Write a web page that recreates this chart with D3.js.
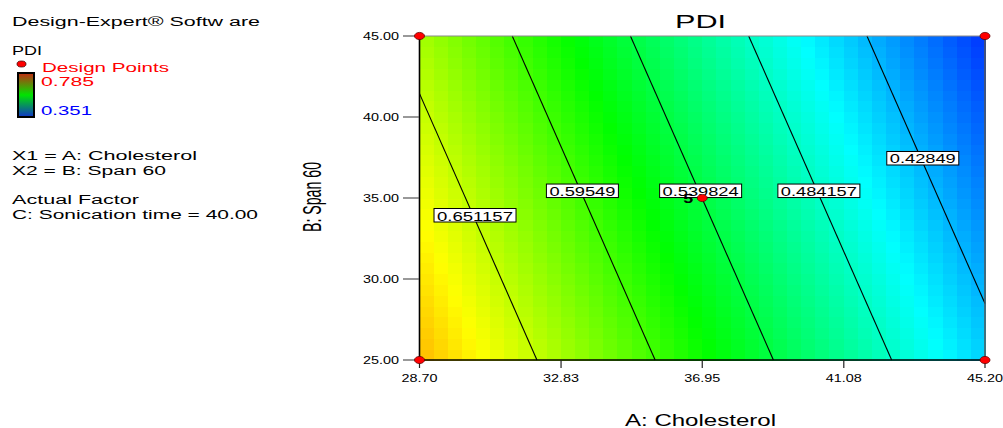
<!DOCTYPE html>
<html><head><meta charset="utf-8">
<script src="https://cdn.jsdelivr.net/npm/d3@7"></script>
<style>
html,body{margin:0;padding:0;background:#fff;}
svg{display:block;font-family:"Liberation Sans",Arial,sans-serif;}
</style></head>
<body>
<svg id="chart" width="1003" height="428"></svg>
<script>
// ---- data ----
const aTicks = [28.70, 32.83, 36.95, 41.08, 45.20];
const bTicks = [25.00, 30.00, 35.00, 40.00, 45.00];
const aTickLabels = ["28.70", "32.83", "36.95", "41.08", "45.20"];
const bTickLabels = ["25.00", "30.00", "35.00", "40.00", "45.00"];
// PDI surface read at tick grid (rows: B = 25..45, cols: A = 28.70..45.20)
const pdiGrid = [
  [0.7065, 0.6398, 0.5733, 0.5067, 0.4402],
  [0.6897, 0.6230, 0.5565, 0.4899, 0.4234],
  [0.6729, 0.6062, 0.5397, 0.4731, 0.4066],
  [0.6560, 0.5893, 0.5228, 0.4562, 0.3897],
  [0.6392, 0.5725, 0.5060, 0.4394, 0.3729]
];
const contourLevels = [0.651157, 0.59549, 0.539824, 0.484157, 0.42849];
const contourLabels = ["0.651157", "0.59549", "0.539824", "0.484157", "0.42849"];
const contourLabelB = [33.95, 35.46, 35.46, 35.46, 37.47];
const designA = [28.70, 45.20, 28.70, 45.20, 36.95];
const designB = [25.00, 25.00, 45.00, 45.00, 35.00];
const designReps = [1, 1, 1, 1, 5];
const colorMin = 0.351, colorMax = 0.785;

// ---- setup ----
const svg = d3.select("#chart");
const x = d3.scaleLinear().domain([aTicks[0], aTicks[aTicks.length-1]]).range([419.5, 985]);
const y = d3.scaleLinear().domain([bTicks[0], bTicks[bTicks.length-1]]).range([360, 36]);
const cStops = d3.range(5).map(i => colorMin + (colorMax - colorMin) * i / 4);
const color = d3.scaleLinear().domain(cStops)
  .range(["#0000ff", "#00ffff", "#00ff00", "#ffff00", "#ff0000"]);

function txt(g, s, x0, yb, size, len, fill, weight) {
  const t = g.append("text").attr("x", x0).attr("y", yb)
    .attr("font-size", size).attr("fill", fill || "#000").text(s);
  if (len) t.attr("textLength", len).attr("lengthAdjust", "spacingAndGlyphs");
  if (weight) t.attr("font-weight", weight);
  return t;
}

// bilinear lookup in grid
function pdiAt(a, b) {
  const ia = Math.min(aTicks.length - 2, Math.max(0, d3.bisectRight(aTicks, a) - 1));
  const ib = Math.min(bTicks.length - 2, Math.max(0, d3.bisectRight(bTicks, b) - 1));
  const ta = (a - aTicks[ia]) / (aTicks[ia+1] - aTicks[ia]);
  const tb = (b - bTicks[ib]) / (bTicks[ib+1] - bTicks[ib]);
  const v00 = pdiGrid[ib][ia], v10 = pdiGrid[ib][ia+1], v01 = pdiGrid[ib+1][ia], v11 = pdiGrid[ib+1][ia+1];
  return (v00*(1-ta) + v10*ta)*(1-tb) + (v01*(1-ta) + v11*ta)*tb;
}

// ---- surface cells ----
const nCols = 40, nRows = 30;
const aDom = x.domain(), bDom = y.domain();
const cells = [];
for (let i = 0; i < nCols; i++) for (let j = 0; j < nRows; j++) {
  const a0 = aDom[0] + (aDom[1]-aDom[0]) * i / nCols, a1 = aDom[0] + (aDom[1]-aDom[0]) * (i+1) / nCols;
  const b0 = bDom[0] + (bDom[1]-bDom[0]) * j / nRows, b1 = bDom[0] + (bDom[1]-bDom[0]) * (j+1) / nRows;
  cells.push({a0, a1, b0, b1, v: pdiAt((a0+a1)/2, (b0+b1)/2)});
}
svg.append("g").attr("shape-rendering", "crispEdges").selectAll("rect").data(cells).join("rect")
  .attr("x", d => x(d.a0)).attr("y", d => y(d.b1))
  .attr("width", d => x(d.a1) - x(d.a0) + 0.6).attr("height", d => y(d.b0) - y(d.b1) + 0.6)
  .attr("fill", d => color(d.v));

// ---- contour lines (crossings on grid perimeter) ----
const perim = [];
for (let i = 0; i < aTicks.length; i++) perim.push([i, 0]);
for (let j = 1; j < bTicks.length; j++) perim.push([aTicks.length-1, j]);
for (let i = aTicks.length-2; i >= 0; i--) perim.push([i, bTicks.length-1]);
for (let j = bTicks.length-2; j > 0; j--) perim.push([0, j]);
function crossings(level) {
  const pts = [];
  for (let k = 0; k < perim.length; k++) {
    const p = perim[k], q = perim[(k+1) % perim.length];
    const vp = pdiGrid[p[1]][p[0]], vq = pdiGrid[q[1]][q[0]];
    if ((vp - level) * (vq - level) <= 0 && vp !== vq) {
      const t = (level - vp) / (vq - vp);
      pts.push([aTicks[p[0]] + t*(aTicks[q[0]] - aTicks[p[0]]), bTicks[p[1]] + t*(bTicks[q[1]] - bTicks[p[1]])]);
    }
  }
  return pts.slice(0, 2);
}
const lines = contourLevels.map((lv, k) => ({lv, label: contourLabels[k], lb: contourLabelB[k], pts: crossings(lv)}));
svg.append("g").selectAll("line").data(lines).join("line")
  .attr("x1", d => x(d.pts[0][0])).attr("y1", d => y(d.pts[0][1]))
  .attr("x2", d => x(d.pts[1][0])).attr("y2", d => y(d.pts[1][1]))
  .attr("stroke", "#000").attr("stroke-width", 1.1);

// ---- frame & axes ----
const fr = svg.append("g");
fr.append("line").attr("x1", x.range()[0]).attr("x2", x.range()[1]).attr("y1", y(bDom[1])).attr("y2", y(bDom[1])).attr("stroke", "#8a8a8a").attr("stroke-width", 1.2);
fr.append("line").attr("x1", x.range()[1]).attr("x2", x.range()[1]).attr("y1", y(bDom[1])).attr("y2", y(bDom[0])).attr("stroke", "#555").attr("stroke-width", 1.5);
fr.append("line").attr("x1", x.range()[0]).attr("x2", x.range()[0]).attr("y1", y(bDom[1])).attr("y2", y(bDom[0])).attr("stroke", "#000").attr("stroke-width", 1.6);
fr.append("line").attr("x1", x.range()[0]).attr("x2", x.range()[1]).attr("y1", y(bDom[0])).attr("y2", y(bDom[0])).attr("stroke", "#000").attr("stroke-width", 1.6);

const ax = svg.append("g");
aTicks.forEach((a, i) => {
  ax.append("line").attr("x1", x(a)).attr("x2", x(a)).attr("y1", 360).attr("y2", 368).attr("stroke", "#222").attr("stroke-width", 1.2);
  txt(ax, aTickLabels[i], x(a) - 18, 382, 10.5, 36);
});
bTicks.forEach((b, i) => {
  ax.append("line").attr("x1", 403).attr("x2", 419).attr("y1", y(b)).attr("y2", y(b)).attr("stroke", "#555").attr("stroke-width", 1.2);
  txt(ax, bTickLabels[i], 363, y(b) + 3.7, 10.5, 36);
});

// ---- contour labels ----
const lg = svg.append("g");
lines.forEach(d => {
  const [p, q] = d.pts;
  const t = (d.lb - p[1]) / (q[1] - p[1]);
  const cx = x(p[0] + t*(q[0]-p[0])) + 2, cy = y(d.lb);
  const w = d.label.length >= 8 ? 82 : 72;
  lg.append("rect").attr("x", cx - w/2).attr("y", cy - 6.5).attr("width", w).attr("height", 13.5)
    .attr("fill", "#fff").attr("stroke", "#000").attr("stroke-width", 1);
  txt(lg, d.label, cx - w/2 + 3, cy + 5.5, 12.5, w - 6);
});

// ---- design points ----
const dp = svg.append("g");
designA.forEach((a, i) => {
  if (designReps[i] > 1) txt(dp, String(designReps[i]), x(a) - 19, y(designB[i]) + 4.5, 13.5, 10, "#000", "bold");
  dp.append("ellipse").attr("cx", x(a)).attr("cy", y(designB[i])).attr("rx", 5).attr("ry", 3.6)
    .attr("fill", "#ff0000").attr("stroke", "#600").attr("stroke-width", 0.8);
});

// ---- titles ----
txt(svg, "PDI", 675, 28, 18, 51);
txt(svg, "A: Cholesterol", 625, 426, 16.5, 151);
svg.append("text").attr("transform", "translate(321,197) scale(1.72,1) rotate(-90)")
  .attr("x", -35).attr("y", 0).attr("font-size", 15)
  .attr("textLength", 70).attr("lengthAdjust", "spacingAndGlyphs").text("B: Span 60");

// ---- left legend ----
const leg = svg.append("g");
txt(leg, "Design-Expert® Softw are", 12, 26, 12.5, 248);
txt(leg, "PDI", 12, 55, 12.5, 30);
leg.append("ellipse").attr("cx", 21.5).attr("cy", 64).attr("rx", 4.5).attr("ry", 3)
  .attr("fill", "#ff0000").attr("stroke", "#400").attr("stroke-width", 0.8);
txt(leg, "Design Points", 42, 72, 12.5, 127, "#ff0000");
const grad = svg.append("defs").append("linearGradient").attr("id", "lg1")
  .attr("x1", 0).attr("y1", 0).attr("x2", 0).attr("y2", 1);
grad.append("stop").attr("offset", "0%").attr("stop-color", "#c42a12");
grad.append("stop").attr("offset", "50%").attr("stop-color", "#00e400");
grad.append("stop").attr("offset", "100%").attr("stop-color", "#1034c8");
leg.append("rect").attr("x", 18).attr("y", 73).attr("width", 16).attr("height", 44)
  .attr("fill", "url(#lg1)").attr("stroke", "#000").attr("stroke-width", 2);
txt(leg, String(colorMax), 41, 86, 12.5, 53, "#ff0000");
txt(leg, String(colorMin), 41, 115, 12.5, 51, "#0000ff");
txt(leg, "X1 = A: Cholesterol", 12, 160, 12.5, 185);
txt(leg, "X2 = B: Span 60", 12, 175, 12.5, 154);
txt(leg, "Actual Factor", 12, 204, 12.5, 127);
txt(leg, "C: Sonication time = 40.00", 12, 219, 12.5, 246);
</script>
</body></html>
